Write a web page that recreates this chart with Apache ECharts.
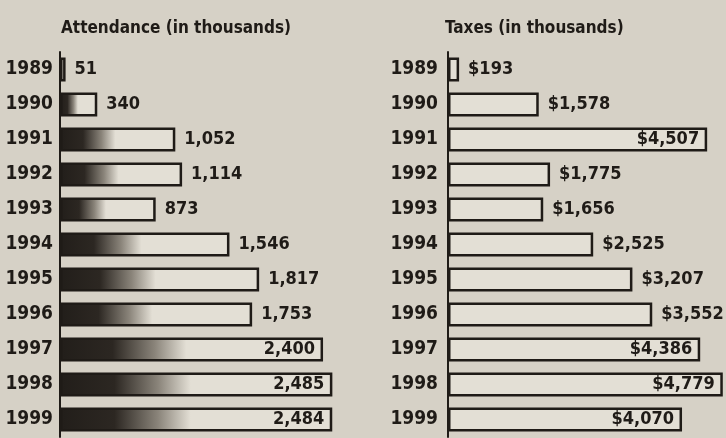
<!DOCTYPE html>
<html>
<head>
<meta charset="utf-8">
<script src="https://cdn.jsdelivr.net/npm/echarts@6/dist/echarts.min.js"></script>
<style>
  html, body { margin: 0; padding: 0; background: #d6d1c6; }
  #main { width: 726px; height: 438px; }
</style>
</head>
<body>
<div id="main"></div>
<script>
var years = ['1989', '1990', '1991', '1992', '1993', '1994', '1995', '1996', '1997', '1998', '1999'];
var attendance = [51, 340, 1052, 1114, 873, 1546, 1817, 1753, 2400, 2485, 2484];
var taxes = [193, 1578, 4507, 1775, 1656, 2525, 3207, 3552, 4386, 4779, 4070];

var ink = '#1f1b17';
var paper = '#e3dfd5';
var font = '"DejaVu Sans Condensed", "Liberation Sans Narrow", sans-serif';

function fmt(v) {
    return v.toString().replace(/\B(?=(\d{3})+(?!\d))/g, ',');
}

// big values get their label inside the bar end
function withLabels(values, limit, prefix) {
    return values.map(function (v) {
        var inside = v >= limit;
        return {
            value: v,
            label: {
                show: true,
                position: inside ? 'insideRight' : 'right',
                distance: inside ? 8 : 9,
                formatter: prefix + fmt(v),
                color: ink,
                fontFamily: font,
                fontWeight: 'bold',
                fontSize: 18
            }
        };
    });
}

var myChart = echarts.init(document.getElementById('main'));

var option = {
    backgroundColor: '#d6d1c6',
    animation: false,
    title: [
        {
            text: 'Attendance (in thousands)',
            left: 56, top: 15,
            textStyle: { fontFamily: font, fontWeight: 'bold', fontSize: 17, color: ink }
        },
        {
            text: 'Taxes (in thousands)',
            left: 440, top: 15,
            textStyle: { fontFamily: font, fontWeight: 'bold', fontSize: 17, color: ink }
        }
    ],
    grid: [
        { left: 60, top: 52, width: 274, height: 385 },
        { left: 448, top: 52, width: 276, height: 385 }
    ],
    xAxis: [
        { gridIndex: 0, type: 'value', min: 0, max: 2500, show: false },
        { gridIndex: 1, type: 'value', min: 0, max: 4800, show: false }
    ],
    yAxis: [0, 1].map(function (i) {
        return {
            gridIndex: i,
            type: 'category',
            inverse: true,
            data: years,
            axisLine: { show: true, lineStyle: { color: ink, width: 2 } },
            axisTick: { show: false },
            axisLabel: {
                color: ink, fontFamily: font, fontWeight: 'bold', fontSize: 19,
                margin: i === 0 ? 7 : 10
            }
        };
    }),
    series: [
        {
            type: 'bar',
            xAxisIndex: 0, yAxisIndex: 0,
            barWidth: 24,
            data: withLabels(attendance, 2000, ''),
            itemStyle: {
                borderColor: ink,
                borderWidth: 2.5,
                color: new echarts.graphic.LinearGradient(0, 0, 1, 0, [
                    { offset: 0, color: '#221e1a' },
                    { offset: 0.2, color: '#2c2722' },
                    { offset: 0.36, color: '#8a847a' },
                    { offset: 0.48, color: paper },
                    { offset: 1, color: paper }
                ])
            }
        },
        {
            type: 'bar',
            xAxisIndex: 1, yAxisIndex: 1,
            barWidth: 24,
            data: withLabels(taxes, 4000, '$'),
            itemStyle: { color: paper, borderColor: ink, borderWidth: 2.5 }
        }
    ]
};
myChart.setOption(option);
</script>
</body>
</html>
